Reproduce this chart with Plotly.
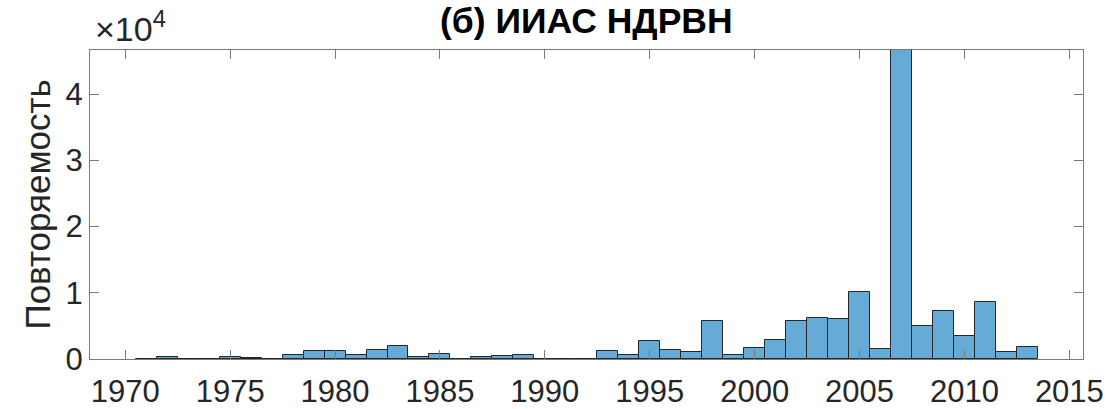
import plotly.graph_objects as go

years = list(range(1971, 2014))
counts = [60, 250, 60, 60, 300, 150, 60, 600, 1150, 1150,
          650, 1300, 1900, 350, 700, 50, 300, 450, 650, 40,
          40, 40, 1200, 600, 2700, 1350, 1000, 5800, 600, 1650,
          2800, 5700, 6200, 6100, 10150, 1450, 46650, 5000, 7200, 3450,
          8600, 1060, 1800]

x_ticks = [1970, 1975, 1980, 1985, 1990, 1995, 2000, 2005, 2010, 2015]
y_ticks = [0, 10000, 20000, 30000, 40000]
y_ticktext = ["0", "1", "2", "3", "4"]

title_text = "<b>(б) ИИАС НДРВН</b>"
ylabel_text = "Повторяемость"
exponent_text = "×10<sup>4</sup>"

FONT = "Liberation Sans, Arial, sans-serif"
AX = "#7a7a7a"
TXT = "#262626"

fig = go.Figure(go.Bar(
    x=years, y=counts, width=1,
    marker=dict(color="rgb(102,170,215)", line=dict(color="#262626", width=1)),
))

fig.update_layout(
    width=1112, height=409,
    margin=dict(l=90, r=29, t=50, b=50),
    paper_bgcolor="white", plot_bgcolor="white",
    showlegend=False,
    bargap=0,
    font=dict(family=FONT, size=30, color=TXT),
    xaxis=dict(range=[1968.32, 2015.65], tickvals=x_ticks,
               ticks="inside", ticklen=9, tickcolor=AX, tickwidth=1,
               showline=True, linecolor=AX, linewidth=1, mirror="ticks",
               showgrid=False, zeroline=False, automargin=False,
               ticklabelstandoff=5,
               tickfont=dict(size=31, color=TXT, family=FONT)),
    yaxis=dict(range=[0, 46650], tickvals=y_ticks, ticktext=y_ticktext,
               ticks="inside", ticklen=9, tickcolor=AX, tickwidth=1,
               showline=True, linecolor=AX, linewidth=1, mirror="ticks",
               showgrid=False, zeroline=False, automargin=False,
               tickfont=dict(size=31, color=TXT, family=FONT)),
    annotations=[
        dict(text=title_text, xref="paper", yref="paper", x=0.5, y=1,
             xanchor="center", yanchor="bottom", yshift=7, showarrow=False,
             font=dict(size=35.5, color="black", family=FONT)),
        dict(text=exponent_text, xref="paper", yref="paper", x=0.003, y=1,
             xanchor="left", yanchor="bottom", yshift=0, showarrow=False,
             font=dict(size=34, color=TXT, family=FONT)),
        dict(text=ylabel_text, xref="paper", yref="paper", x=-53/993, y=0.5,
             xanchor="center", yanchor="middle", textangle=-90, showarrow=False,
             font=dict(size=35, color=TXT, family=FONT)),
    ],
)

fig.write_html("out.html")
